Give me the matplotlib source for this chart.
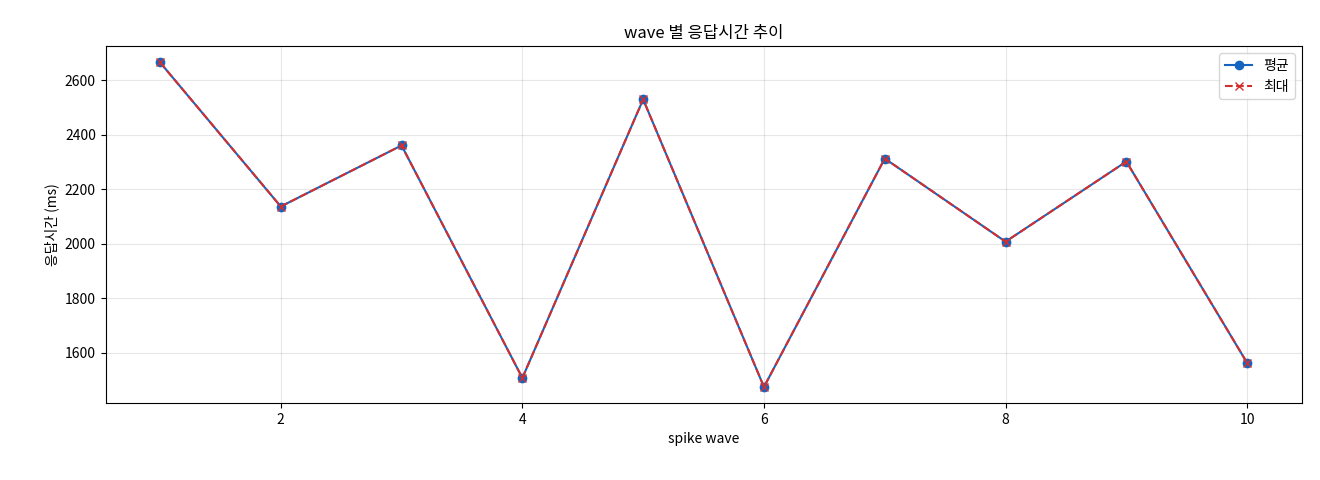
import matplotlib
matplotlib.use("Agg")
import matplotlib.pyplot as plt

plt.rcParams['font.family'] = ['Noto Sans CJK KR', 'DejaVu Sans']
plt.rcParams['axes.unicode_minus'] = False

waves = [1, 2, 3, 4, 5, 6, 7, 8, 9, 10]
avg_ms = [2666, 2137, 2361, 1508, 2530, 1475, 2313, 2008, 2302, 1563]
max_ms = [2666, 2137, 2361, 1508, 2530, 1475, 2313, 2008, 2302, 1563]

fig, ax = plt.subplots(figsize=(13.2, 4.8), dpi=100)
fig.subplots_adjust(left=0.08, right=0.986, top=0.904, bottom=0.16)

ax.plot(waves, avg_ms, marker='o', color='#1565c0', label='평균')
ax.plot(waves, max_ms, marker='x', linestyle='--', color='#d32f2f', label='최대')

ax.set_title('wave 별 응답시간 추이')
ax.set_xlabel('spike wave')
ax.set_ylabel('응답시간 (ms)')
ax.grid(True, alpha=0.3)
ax.legend(loc='upper right')

plt.savefig('out.png')
